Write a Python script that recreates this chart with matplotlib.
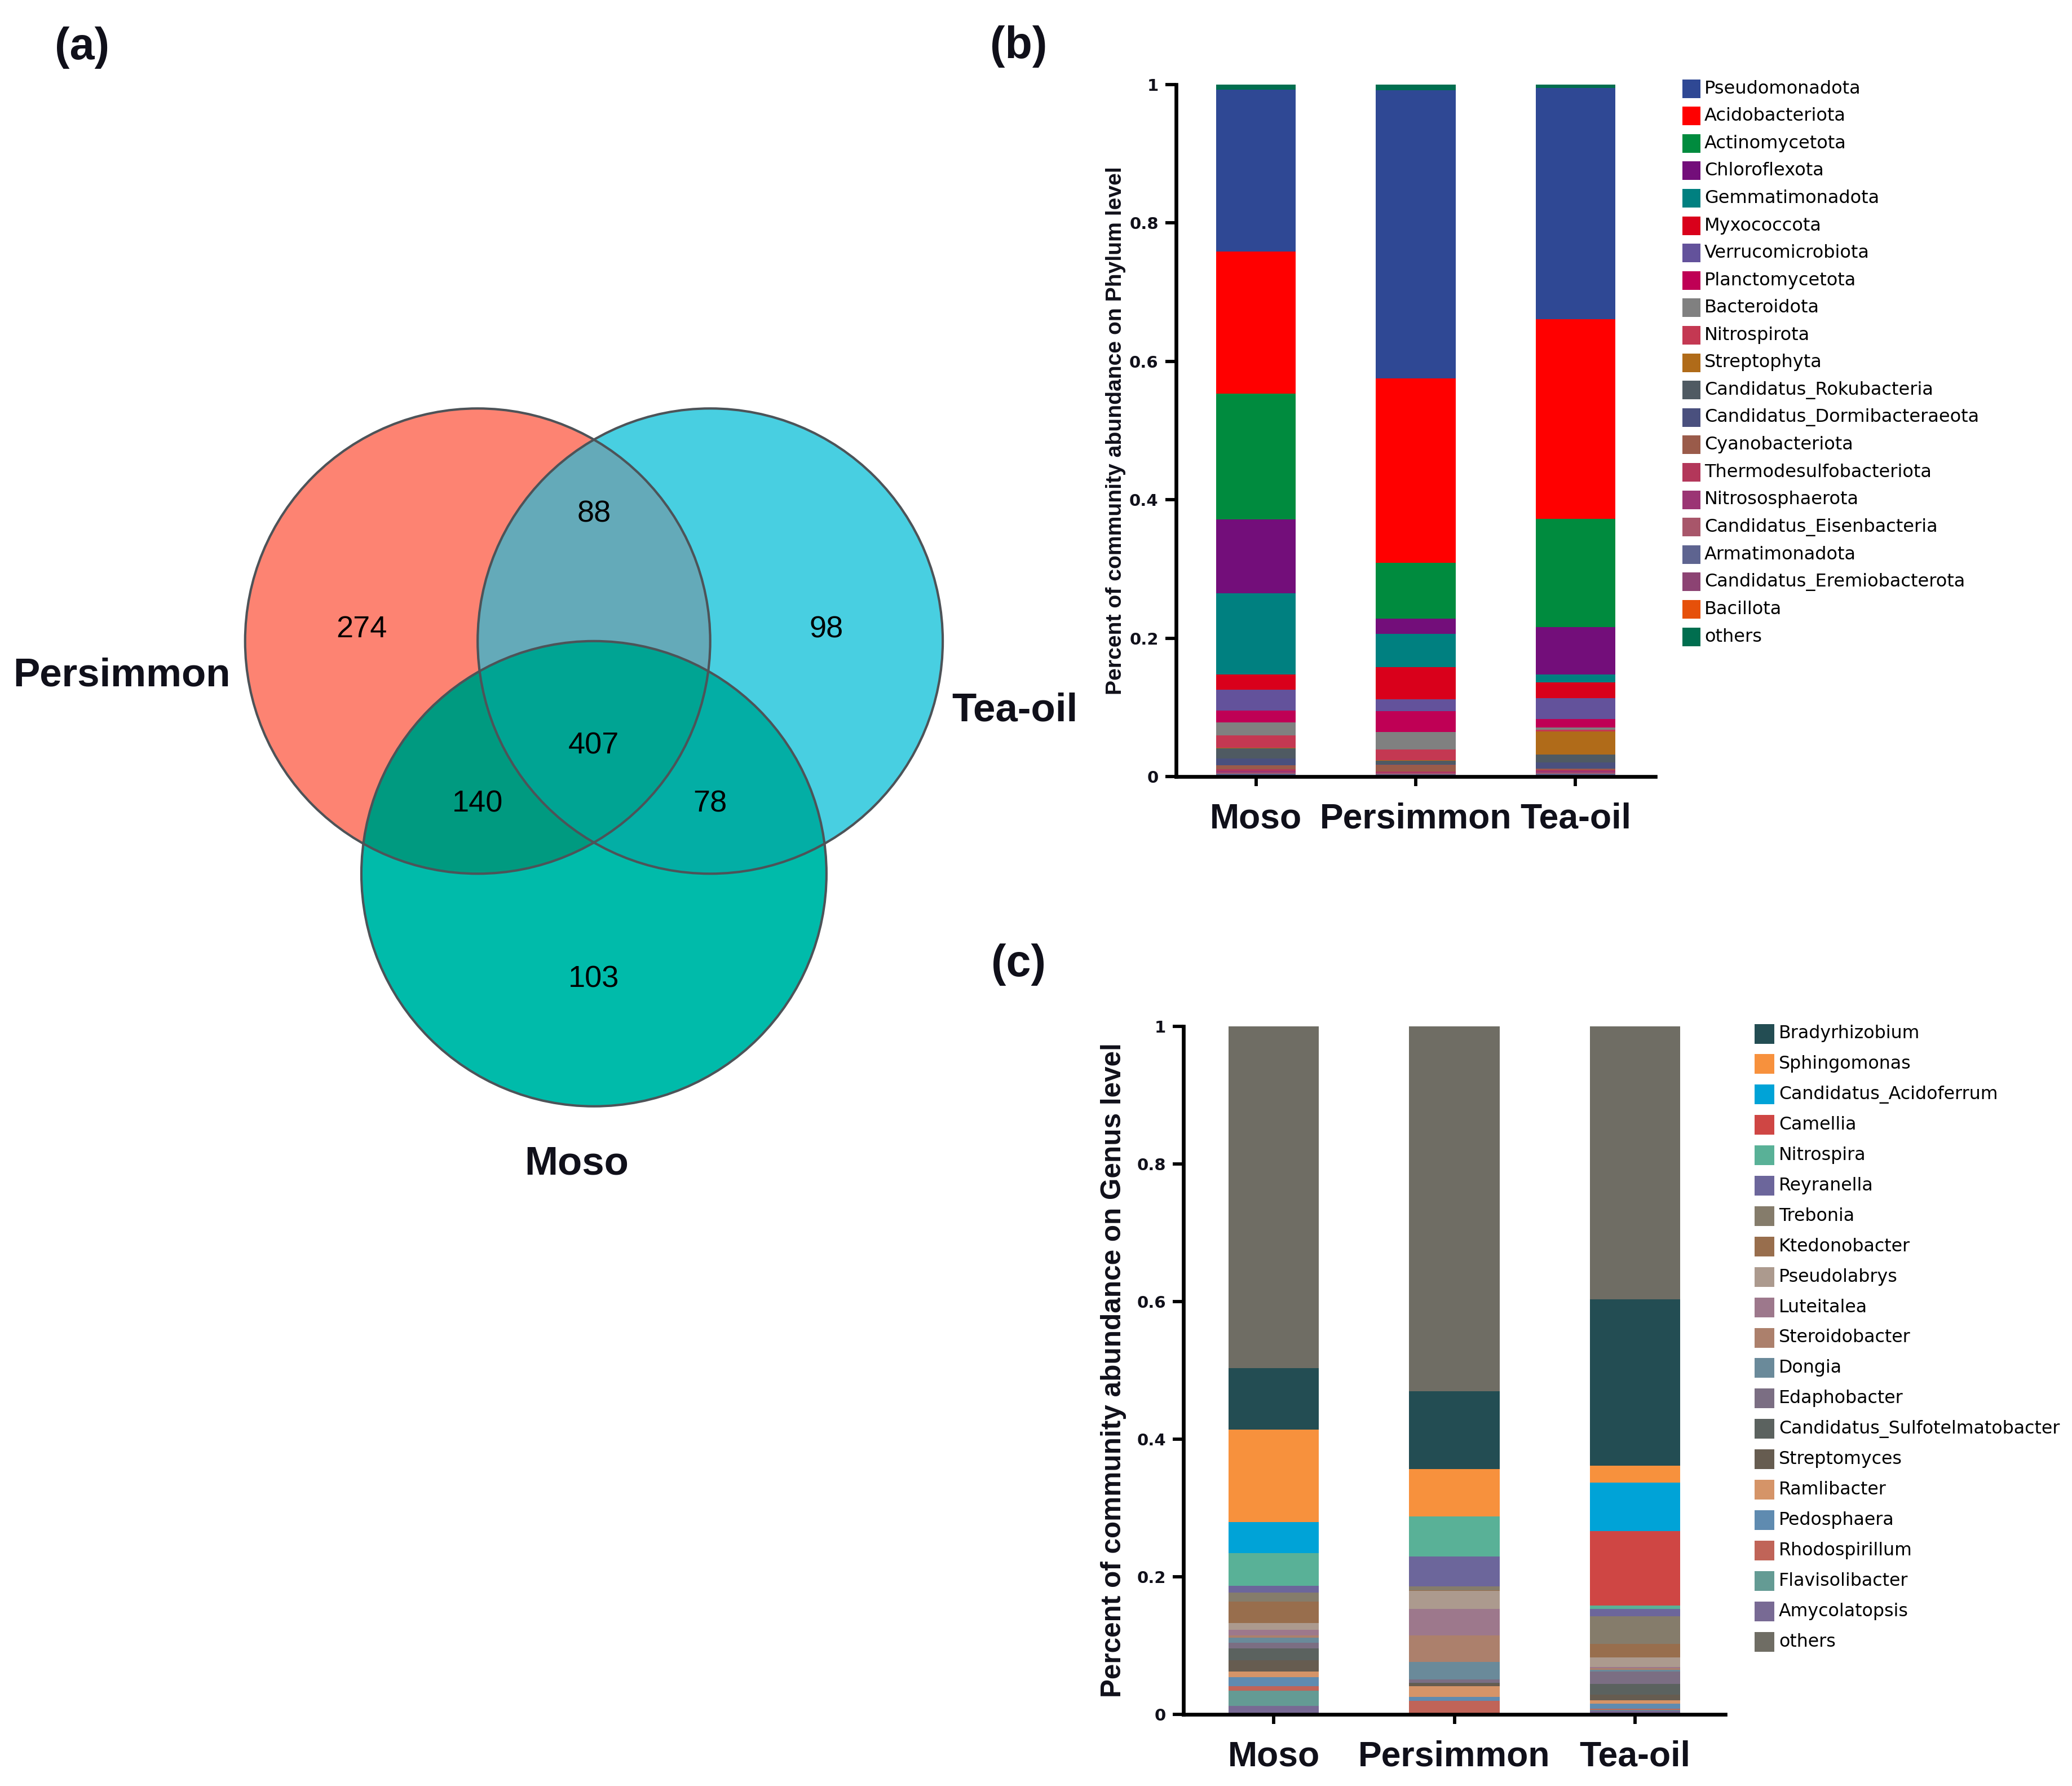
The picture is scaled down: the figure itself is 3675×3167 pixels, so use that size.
import numpy as np
import matplotlib
matplotlib.use('Agg')
import matplotlib.pyplot as plt
from matplotlib.patches import Circle, Polygon, Rectangle

W, H = 3675, 3167
DPI = 300

# ---------------- data ----------------
sites = ['Moso', 'Persimmon', 'Tea-oil']

# Venn: only P, only T, only M, P&T, P&M, T&M, all
venn_names = ['Persimmon', 'Tea-oil', 'Moso']
venn_regions = ['P', 'T', 'M', 'PT', 'PM', 'TM', 'PTM']
venn_counts = [274, 98, 103, 88, 140, 78, 407]

phyla = ['Pseudomonadota', 'Acidobacteriota', 'Actinomycetota', 'Chloroflexota',
         'Gemmatimonadota', 'Myxococcota', 'Verrucomicrobiota', 'Planctomycetota',
         'Bacteroidota', 'Nitrospirota', 'Streptophyta', 'Candidatus_Rokubacteria',
         'Candidatus_Dormibacteraeota', 'Cyanobacteriota', 'Thermodesulfobacteriota',
         'Nitrososphaerota', 'Candidatus_Eisenbacteria', 'Armatimonadota',
         'Candidatus_Eremiobacterota', 'Bacillota', 'others']
phylum_moso = [0.234, 0.205, 0.182, 0.1065, 0.117, 0.0225, 0.030, 0.0174, 0.0185, 0.018,
               0.0005, 0.015, 0.010, 0.005, 0.003, 0.002, 0.002, 0.002, 0.001, 0.001, 0.0076]
phylum_persimmon = [0.4165, 0.2665, 0.081, 0.0212, 0.0488, 0.0464, 0.0166, 0.0305, 0.0253, 0.015,
                    0.001, 0.0047, 0.001, 0.010, 0.0013, 0.0015, 0.0015, 0.001, 0.001, 0.001, 0.008]
phylum_teaoil = [0.334, 0.2884, 0.1566, 0.0688, 0.0114, 0.0229, 0.0299, 0.0117, 0.0038, 0.0025,
                 0.0334, 0.0112, 0.009, 0.0016, 0.0018, 0.002, 0.002, 0.0015, 0.0015, 0.001, 0.005]
phylum_colors = ['#2F4894', '#FF0000', '#008B3E', '#730E7A', '#008080', '#D9001B', '#63529B',
                 '#BF0055', '#808080', '#C43852', '#B06B19', '#4F5A62', '#4A507E', '#9A5B4A',
                 '#B3375A', '#9B3574', '#A8566A', '#5E6490', '#8C4373', '#E6500A', '#006E4F']

genera = ['Bradyrhizobium', 'Sphingomonas', 'Candidatus_Acidoferrum', 'Camellia', 'Nitrospira',
          'Reyranella', 'Trebonia', 'Ktedonobacter', 'Pseudolabrys', 'Luteitalea',
          'Steroidobacter', 'Dongia', 'Edaphobacter', 'Candidatus_Sulfotelmatobacter',
          'Streptomyces', 'Ramlibacter', 'Pedosphaera', 'Rhodospirillum', 'Flavisolibacter',
          'Amycolatopsis', 'others']
genus_moso = [0.089, 0.134, 0.0456, 0.0, 0.0474, 0.010, 0.013, 0.031, 0.010, 0.0083, 0.0028,
              0.0077, 0.0083, 0.0171, 0.016, 0.0083, 0.0136, 0.0066, 0.0221, 0.0121, 0.497]
genus_persimmon = [0.113, 0.0687, 0.0, 0.0, 0.0583, 0.0433, 0.006, 0.0008, 0.026, 0.0389, 0.0381,
                   0.0257, 0.0047, 0.001, 0.004, 0.0154, 0.006, 0.0185, 0.0011, 0.0, 0.5305]
genus_teaoil = [0.242, 0.0243, 0.0709, 0.1077, 0.005, 0.0108, 0.0403, 0.0199, 0.0138, 0.0014,
                0.0028, 0.0017, 0.0185, 0.0152, 0.0086, 0.0047, 0.0074, 0.0014, 0.0014, 0.0055, 0.3967]
genus_colors = ['#234D53', '#F7913D', '#00A3D7', '#CF4644', '#59B197', '#6C669B', '#857C6B',
                '#986E4D', '#AC9A8E', '#9D788C', '#AC806C', '#6A8A9A', '#7B6E83', '#5B625F',
                '#665C50', '#D59468', '#5F8BB0', '#C06458', '#649B94', '#786A94', '#6F6D64']

TXT = '#10101a'
ARIAL = ['Liberation Sans', 'DejaVu Sans']

fig = plt.figure(figsize=(W / DPI, H / DPI), dpi=DPI)


def fx(px):
    return px / W


def fy(py):
    return 1 - py / H


# ---------------- (a) Venn ----------------
ax_v = fig.add_axes([0, 0, 0.5, 1])
ax_v.set_xlim(-2.554, 1.901)
ax_v.set_ylim(-4.922, 2.756)
ax_v.axis('off')

R = 1.0
centers = {'P': (-0.5, 0.0), 'T': (0.5, 0.0), 'M': (0.0, -1.0)}
region_colors = {'P': '#FD8372', 'T': '#48CFE1', 'M': '#00BBAA',
                 'PT': '#64AAB9', 'PM': '#009A80', 'TM': '#03AEA5', 'PTM': '#00A493'}


def inter_poly(keys, n=1440):
    cs = [centers[k] for k in keys]
    th = np.linspace(0, 2 * np.pi, n, endpoint=False)
    pts = []
    for cx, cy in cs:
        p = np.c_[cx + R * np.cos(th), cy + R * np.sin(th)]
        ok = np.all([np.hypot(p[:, 0] - ox, p[:, 1] - oy) <= R + 1e-9 for ox, oy in cs], axis=0)
        pts.append(p[ok])
    pts = np.vstack(pts)
    c = pts.mean(axis=0)
    ang = np.arctan2(pts[:, 1] - c[1], pts[:, 0] - c[0])
    return pts[np.argsort(ang)]


for key in ['P', 'T', 'PT', 'M', 'PM', 'TM', 'PTM']:
    if len(key) == 1:
        patch = Circle(centers[key], R, facecolor=region_colors[key], edgecolor='none')
    else:
        patch = Polygon(inter_poly(list(key)), closed=True, facecolor=region_colors[key],
                        edgecolor='none')
    ax_v.add_patch(patch)
for key in ['P', 'T', 'M']:
    ax_v.add_patch(Circle(centers[key], R, facecolor='none', edgecolor='#4d5358', linewidth=1.0))

count_pos = {'P': (-1.0, 0.05), 'T': (1.0, 0.05), 'M': (0.0, -1.455), 'PT': (0.0, 0.545),
             'PM': (-0.5, -0.70), 'TM': (0.5, -0.70), 'PTM': (0.0, -0.45)}
for reg, cnt in zip(venn_regions, venn_counts):
    x, y = count_pos[reg]
    ax_v.text(x, y, str(cnt), ha='center', va='center', fontsize=13, family=ARIAL, color='black')

name_pos = [(-2.03, -0.15), (1.81, -0.30), (-0.075, -2.25)]
for name, (x, y) in zip(venn_names, name_pos):
    ax_v.text(x, y, name, ha='center', va='center', fontsize=17, fontweight='bold',
              family=ARIAL, color=TXT)


# ---------------- stacked bars ----------------
def stacked(ax, names, colors, values_by_site):
    x = np.arange(len(sites))
    order = list(range(len(names) - 1))[::-1] + [len(names) - 1]
    bottom = np.zeros(len(sites))
    for i in order:
        vals = np.array([v[i] for v in values_by_site])
        ax.bar(x, vals, width=0.5, bottom=bottom, color=colors[i], linewidth=0)
        bottom += vals
    ax.set_xlim(-0.5, 2.5)
    ax.set_ylim(0, 1)
    ax.set_xticks(x)
    ax.set_xticklabels(sites, fontsize=15, fontweight='bold', family=ARIAL, color=TXT)
    ax.set_yticks([0, 0.2, 0.4, 0.6, 0.8, 1.0])
    ax.set_yticklabels(['0', '0.2', '0.4', '0.6', '0.8', '1'], fontsize=7, fontweight='bold',
                       family='DejaVu Sans', color=TXT)
    for s in ['top', 'right']:
        ax.spines[s].set_visible(False)
    for s in ['left', 'bottom']:
        ax.spines[s].set_linewidth(1.6)
        ax.spines[s].set_color('black')
    ax.tick_params(axis='y', length=4.5, width=1.4, pad=3)
    ax.tick_params(axis='x', length=4, width=1.4, pad=7)


def legend(names, colors, x_sq, y0, dy, w, h, x_txt, size):
    for i, (name, col) in enumerate(zip(names, colors)):
        yc = y0 + i * dy
        fig.add_artist(Rectangle((fx(x_sq), fy(yc + h / 2)), w / W, h / H,
                                 transform=fig.transFigure, facecolor=col, edgecolor='none'))
        fig.text(fx(x_txt), fy(yc), name, ha='left', va='center', fontsize=size,
                 family='DejaVu Sans', color='black')


# (b) phylum
ax_b = fig.add_axes([fx(2086), fy(1377), (2936 - 2086) / W, (1377 - 150) / H])
stacked(ax_b, phyla, phylum_colors, [phylum_moso, phylum_persimmon, phylum_teaoil])
ax_b.set_ylabel('Percent of community abundance on Phylum level', fontsize=9.4,
                fontweight='bold', family=ARIAL, color=TXT)
ax_b.yaxis.set_label_coords(-0.105, 0.5)
legend(phyla, phylum_colors, 2984, 157, 48.6, 32, 33, 3023, 7.7)

# (c) genus
ax_c = fig.add_axes([fx(2099), fy(3040), (3060 - 2099) / W, (3040 - 1820) / H])
stacked(ax_c, genera, genus_colors, [genus_moso, genus_persimmon, genus_teaoil])
ax_c.set_ylabel('Percent of community abundance on Genus level', fontsize=11.9,
                fontweight='bold', family=ARIAL, color=TXT)
ax_c.yaxis.set_label_coords(-0.105, 0.5)
legend(genera, genus_colors, 3112, 1833, 53.9, 35, 35, 3155, 7.6)

# panel labels
for lab, (px, py) in zip(['(a)', '(b)', '(c)'], [(146, 85), (1807, 82), (1807, 1711)]):
    fig.text(fx(px), fy(py), lab, ha='center', va='center', fontsize=19, fontweight='bold',
             family=ARIAL, color=TXT)

fig.savefig('out.png', dpi=DPI, facecolor='white')
